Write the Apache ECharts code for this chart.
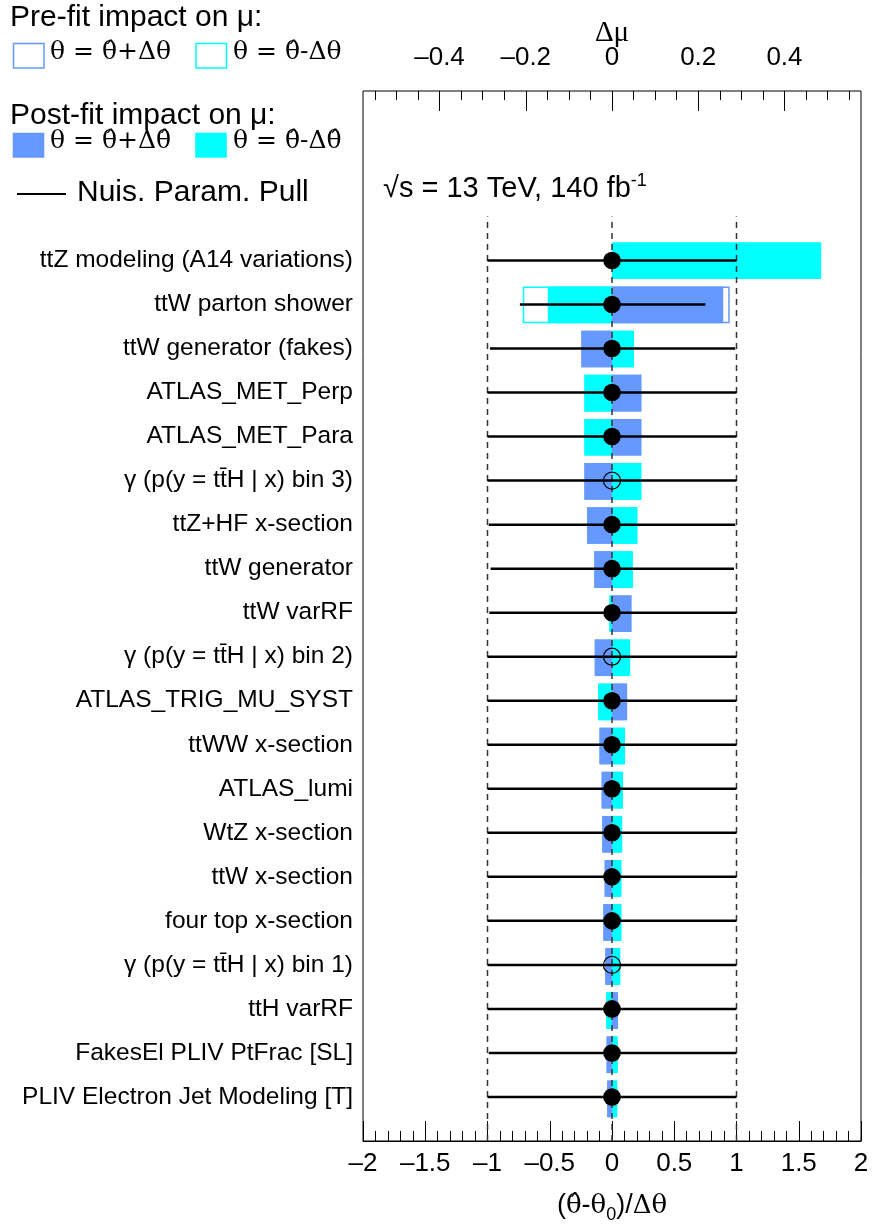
<!DOCTYPE html>
<html>
<head>
<meta charset="utf-8">
<script src="https://cdn.jsdelivr.net/npm/echarts@6/dist/echarts.min.js"></script>
<style>
  html, body { margin: 0; padding: 0; background: #fff; }
  #chart { width: 874px; height: 1229px; }
</style>
</head>
<body>
<div id="chart"></div>
<script>
// Nuisance parameters ranked by post-fit impact on mu (top row first)
const paramNames = [
  'ttZ modeling (A14 variations)',
  'ttW parton shower',
  'ttW generator (fakes)',
  'ATLAS_MET_Perp',
  'ATLAS_MET_Para',
  'γ (p(y = tt\u0304H | x) bin 3)',
  'ttZ+HF x-section',
  'ttW generator',
  'ttW varRF',
  'γ (p(y = tt\u0304H | x) bin 2)',
  'ATLAS_TRIG_MU_SYST',
  'ttWW x-section',
  'ATLAS_lumi',
  'WtZ x-section',
  'ttW x-section',
  'four top x-section',
  'γ (p(y = tt\u0304H | x) bin 1)',
  'ttH varRF',
  'FakesEl PLIV PtFrac [SL]',
  'PLIV Electron Jet Modeling [T]'
];

// Impact on mu for theta = theta_hat + delta (up) and theta_hat - delta (down)
const prefitUp    = [0,      0.273,  -0.071, 0.068, 0.068, -0.064, -0.058, -0.041, 0.045, -0.040, 0.035, -0.029, -0.024, -0.0225, -0.017, -0.020, -0.0155, 0.014, -0.0125, -0.011];
const prefitDown  = [0.485, -0.207,   0.051, -0.064, -0.064, 0.068, 0.0587, 0.048, -0.006, 0.042, -0.032, 0.030, 0.0255, 0.0235, 0.0216, 0.0216, 0.019, -0.013, 0.013, 0.012];
const postfitUp   = [0,      0.258,  -0.071, 0.068, 0.068, -0.064, -0.058, -0.041, 0.045, -0.040, 0.035, -0.029, -0.024, -0.0225, -0.017, -0.020, -0.0155, 0.014, -0.0125, -0.011];
const postfitDown = [0.485, -0.149,   0.051, -0.064, -0.064, 0.068, 0.0587, 0.048, -0.006, 0.042, -0.032, 0.030, 0.0255, 0.0235, 0.0216, 0.0216, 0.019, -0.013, 0.013, 0.012];

// Nuisance parameter pulls (theta_hat - theta_0)/delta_theta with post-fit errors
const pullCentral = [0, 0, 0, 0, 0, 0, 0, 0, 0, 0, 0, 0, 0, 0, 0, 0, 0, 0, 0, 0];
const pullErrLow  = [1, 0.74, 0.98, 1, 1, 1, 0.99, 0.975, 0.985, 1, 1, 1, 1, 1, 1, 1, 1, 1, 0.99, 1];
const pullErrHigh = [1, 0.75, 0.99, 1, 1, 1, 0.99, 0.98, 1, 1, 1, 1, 1, 1, 1, 1, 1, 1, 1, 1];
// gamma (stat) parameters get an open marker
const openMarker  = [0, 0, 0, 0, 0, 1, 0, 0, 0, 1, 0, 0, 0, 0, 0, 0, 1, 0, 0, 0];

// Reference lines at pull = -1, 0, +1
const refLines = [-1, 0, 1];
const refLineTop = 20;

// Axis ranges
const pullRange = [-2, 2];
const muMinorRange = [-0.55, 0.55];
const muMajorRange = [-0.4, 0.4];
const rowRange = [-1, 22.85];

const N = paramNames.length;
const BLUE = '#6699ff';
const CYAN = '#00ffff';
const SANS = "'Liberation Sans', Arial, Helvetica, sans-serif";
const SERIF = "'Liberation Serif', 'Times New Roman', serif";
const MATH = "'DejaVu Serif', 'Liberation Serif', serif";
const BAR_H = 0.83;

// frame geometry (px)
const FL = 363, FT = 91, FW = 498, FH = 1052;
const pxPerMu = (FW / 2) / 0.5775;
const zeroX = FL + FW / 2;

const rowY = i => N - 1 - i;
const dash = v => String(v).replace('-', '\u2013');

function boxRenderer(color, filled) {
  return function (params, api) {
    const v = api.value(0), y = api.value(1);
    if (!v) return { type: 'group', children: [] };
    const p0 = api.coord([0, y]);
    const p1 = api.coord([v, y]);
    const h = api.size([0, BAR_H])[1];
    const x = Math.min(p0[0], p1[0]);
    const w = Math.abs(p1[0] - p0[0]);
    if (filled) {
      return { type: 'rect', shape: { x: x, y: p0[1] - h / 2, width: w, height: h }, style: { fill: color } };
    }
    return {
      type: 'rect',
      shape: { x: x + 0.75, y: p0[1] - h / 2 + 0.75, width: w - 1.5, height: h - 1.5 },
      style: { fill: '#fff', stroke: color, lineWidth: 1.5 }
    };
  };
}

function rowAxis(gridIndex) {
  return {
    type: 'value', gridIndex: gridIndex, min: rowRange[0], max: rowRange[1],
    show: gridIndex === 0, interval: 1,
    axisLine: { show: false, onZero: false }, axisTick: { show: false }, splitLine: { show: false },
    axisLabel: {
      show: gridIndex === 0, showMaxLabel: false, showMinLabel: false, margin: 10,
      fontFamily: SANS, fontSize: 24.5, color: '#000',
      formatter: function (v) {
        const k = Math.round(v);
        const i = N - 1 - k;
        return (i >= 0 && i < N) ? paramNames[i] : '';
      }
    }
  };
}

const chart = echarts.init(document.getElementById('chart'), null, { renderer: 'canvas' });

const option = {
  animation: false,
  backgroundColor: '#fff',
  grid: [
    { left: FL, top: FT, width: FW, height: FH, show: true, borderColor: '#000', borderWidth: 1, backgroundColor: 'transparent' },
    { left: zeroX + muMinorRange[0] * pxPerMu, top: FT, width: (muMinorRange[1] - muMinorRange[0]) * pxPerMu, height: FH },
    { left: zeroX + muMajorRange[0] * pxPerMu, top: FT, width: (muMajorRange[1] - muMajorRange[0]) * pxPerMu, height: FH }
  ],
  xAxis: [
    {
      type: 'value', gridIndex: 0, position: 'bottom', min: pullRange[0], max: pullRange[1], interval: 0.5,
      axisLine: { show: true, onZero: false, lineStyle: { color: '#000', width: 1 } },
      axisTick: { show: true, inside: true, length: 20, lineStyle: { color: '#000', width: 1 } },
      minorTick: { show: true, splitNumber: 5, length: 10, lineStyle: { color: '#000', width: 1 } },
      splitLine: { show: false },
      axisLabel: { margin: 10, fontFamily: SANS, fontSize: 26, color: '#000', formatter: dash },
      name: '{p|(}{g|θ\u0302}{p|-}{g|θ}{s|0}{p|)/}{g|Δθ}',
      nameLocation: 'middle', nameGap: 47, nameMoveOverlap: false,
      nameTextStyle: {
        rich: {
          p: { fontFamily: SANS, fontSize: 27, color: '#000', lineHeight: 36, verticalAlign: 'middle' },
          g: { fontFamily: MATH, fontSize: 26, color: '#000', lineHeight: 36, verticalAlign: 'middle' },
          s: { fontFamily: SANS, fontSize: 18, color: '#000', lineHeight: 14, verticalAlign: 'bottom' }
        }
      }
    },
    {
      type: 'value', gridIndex: 1, position: 'top', min: muMinorRange[0], max: muMinorRange[1], interval: 0.05,
      axisLine: { show: false, onZero: false },
      axisTick: { show: true, inside: true, length: 9, lineStyle: { color: '#000', width: 1 } },
      splitLine: { show: false }, axisLabel: { show: false }
    },
    {
      type: 'value', gridIndex: 2, position: 'top', min: muMajorRange[0], max: muMajorRange[1], interval: 0.2,
      axisLine: { show: false, onZero: false },
      axisTick: { show: true, inside: true, length: 20, lineStyle: { color: '#000', width: 1 } },
      splitLine: { show: false },
      axisLabel: { margin: 20, fontFamily: SANS, fontSize: 26, color: '#000', formatter: dash },
      name: 'Δμ', nameLocation: 'middle', nameGap: 43, nameMoveOverlap: false,
      nameTextStyle: { fontFamily: SERIF, fontSize: 29, color: '#000' }
    }
  ],
  yAxis: [rowAxis(0), rowAxis(1), rowAxis(2)],
  graphic: [
    { type: 'text', left: 10, top: 3, style: { text: 'Pre-fit impact on μ:', font: '30px ' + SANS, fill: '#000' } },
    { type: 'rect', shape: { x: 13.5, y: 43.5, width: 30.5, height: 24.5 }, style: { fill: '#fff', stroke: BLUE, lineWidth: 1.5 } },
    { type: 'text', left: 50, top: 40, style: { text: 'θ = θ\u0302+Δθ', font: '25px ' + MATH, fill: '#000' } },
    { type: 'rect', shape: { x: 196, y: 43.5, width: 30.5, height: 24.5 }, style: { fill: '#fff', stroke: CYAN, lineWidth: 1.5 } },
    { type: 'text', left: 233, top: 40, style: { text: 'θ = θ\u0302-Δθ', font: '25px ' + MATH, fill: '#000' } },

    { type: 'text', left: 10, top: 101, style: { text: 'Post-fit impact on μ:', font: '30px ' + SANS, fill: '#000' } },
    { type: 'rect', shape: { x: 12.7, y: 132.7, width: 31.6, height: 25 }, style: { fill: BLUE } },
    { type: 'text', left: 50, top: 129, style: { text: 'θ = θ\u0302+Δθ\u0302', font: '25px ' + MATH, fill: '#000' } },
    { type: 'rect', shape: { x: 195.2, y: 132.7, width: 31.6, height: 25 }, style: { fill: CYAN } },
    { type: 'text', left: 233, top: 129, style: { text: 'θ = θ\u0302-Δθ\u0302', font: '25px ' + MATH, fill: '#000' } },

    { type: 'line', shape: { x1: 17, y1: 194, x2: 66, y2: 194 }, style: { stroke: '#000', lineWidth: 2 } },
    { type: 'text', left: 77, top: 178, style: { text: 'Nuis. Param. Pull', font: '30px ' + SANS, fill: '#000' } },

    {
      type: 'text', left: 383, top: 172,
      style: {
        text: '{m|√s = 13 TeV, 140 fb}{u|-1}',
        rich: {
          m: { fontFamily: SANS, fontSize: 29, fill: '#000', lineHeight: 34, verticalAlign: 'middle' },
          u: { fontFamily: SANS, fontSize: 18, fill: '#000', lineHeight: 18, verticalAlign: 'top' }
        }
      }
    }
  ],
  series: [
    {
      name: 'prefitUp', type: 'custom', xAxisIndex: 1, yAxisIndex: 1,
      renderItem: boxRenderer(BLUE, false), encode: { x: 0, y: 1 },
      data: prefitUp.map((v, i) => [v, rowY(i)])
    },
    {
      name: 'prefitDown', type: 'custom', xAxisIndex: 1, yAxisIndex: 1,
      renderItem: boxRenderer(CYAN, false), encode: { x: 0, y: 1 },
      data: prefitDown.map((v, i) => [v, rowY(i)])
    },
    {
      name: 'postfitUp', type: 'custom', xAxisIndex: 1, yAxisIndex: 1,
      renderItem: boxRenderer(BLUE, true), encode: { x: 0, y: 1 },
      data: postfitUp.map((v, i) => [v, rowY(i)])
    },
    {
      name: 'postfitDown', type: 'custom', xAxisIndex: 1, yAxisIndex: 1,
      renderItem: boxRenderer(CYAN, true), encode: { x: 0, y: 1 },
      data: postfitDown.map((v, i) => [v, rowY(i)])
    },
    {
      name: 'refLines', type: 'custom', xAxisIndex: 0, yAxisIndex: 0,
      encode: { x: 0 },
      data: refLines.map(v => [v]),
      renderItem: function (params, api) {
        const x = api.value(0);
        const a = api.coord([x, rowRange[0]]);
        const b = api.coord([x, refLineTop]);
        return {
          type: 'line', shape: { x1: a[0], y1: a[1], x2: b[0], y2: b[1] },
          style: { stroke: '#333', lineWidth: 1.5, lineDash: [6, 5] }
        };
      }
    },
    {
      name: 'pulls', type: 'custom', xAxisIndex: 0, yAxisIndex: 0,
      encode: { x: 0, y: 3 },
      data: paramNames.map((n, i) => [pullCentral[i], pullErrLow[i], pullErrHigh[i], rowY(i), openMarker[i]]),
      renderItem: function (params, api) {
        const c = api.value(0), lo = api.value(1), hi = api.value(2), y = api.value(3), open = api.value(4);
        const a = api.coord([c - lo, y]);
        const b = api.coord([c + hi, y]);
        const m = api.coord([c, y]);
        const marker = open
          ? { type: 'circle', shape: { cx: m[0], cy: m[1], r: 8.5 }, style: { fill: 'none', stroke: '#000', lineWidth: 1.3 } }
          : { type: 'circle', shape: { cx: m[0], cy: m[1], r: 8.8 }, style: { fill: '#000' } };
        return {
          type: 'group',
          children: [
            { type: 'line', shape: { x1: a[0], y1: a[1], x2: b[0], y2: b[1] }, style: { stroke: '#000', lineWidth: 2.5 } },
            marker
          ]
        };
      }
    }
  ]
};

chart.setOption(option);
</script>
</body>
</html>
